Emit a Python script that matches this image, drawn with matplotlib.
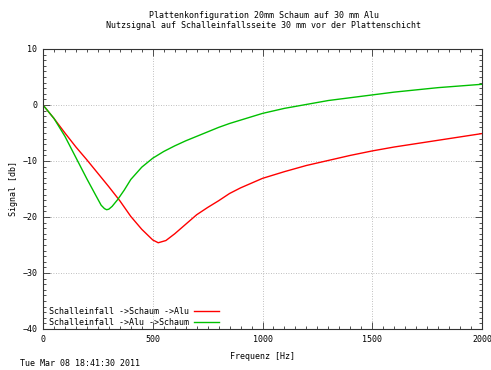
import matplotlib
matplotlib.use("Agg")
import matplotlib.pyplot as plt
from matplotlib.ticker import MultipleLocator

# Schalleinfall -> Schaum -> Alu (rot)
freq_red = [0, 50, 100, 150, 200, 250, 300, 350, 400, 450, 500, 525, 560, 600,
            650, 700, 750, 800, 850, 900, 1000, 1100, 1200, 1300, 1400, 1500,
            1600, 1700, 1800, 1900, 2000]
sig_red = [0, -2.4, -5.0, -7.5, -9.8, -12.2, -14.6, -17.1, -19.9, -22.2, -24.1,
           -24.6, -24.2, -23.0, -21.3, -19.6, -18.3, -17.1, -15.8, -14.8, -13.1,
           -11.9, -10.8, -9.9, -9.0, -8.2, -7.5, -6.9, -6.3, -5.7, -5.1]

# Schalleinfall -> Alu -> Schaum (gruen)
freq_green = [0, 50, 100, 150, 200, 240, 265, 280, 290, 300, 315, 340, 370, 400,
              450, 500, 550, 600, 650, 700, 750, 800, 850, 900, 1000, 1100, 1200,
              1300, 1400, 1500, 1600, 1700, 1800, 1900, 2000]
sig_green = [0, -2.4, -5.6, -9.4, -13.2, -16.1, -17.9, -18.5, -18.7, -18.6, -18.1,
             -16.9, -15.2, -13.3, -11.1, -9.5, -8.3, -7.3, -6.4, -5.6, -4.8, -4.0,
             -3.3, -2.7, -1.5, -0.6, 0.1, 0.8, 1.3, 1.8, 2.3, 2.7, 3.1, 3.4, 3.7]

labels = ["Schalleinfall ->Schaum ->Alu", "Schalleinfall ->Alu ->Schaum"]

plt.rcParams["font.family"] = "DejaVu Sans Mono"
plt.rcParams["font.size"] = 6

fig = plt.figure(figsize=(4.91, 3.70), dpi=100)
ax = fig.add_axes([43 / 491, 1 - 329 / 370, 439 / 491, 280 / 370])

ax.plot(freq_red, sig_red, color="#ff0000", lw=1.0, label=labels[0])
ax.plot(freq_green, sig_green, color="#00c000", lw=1.0, label=labels[1])

ax.set_xlim(0, 2000)
ax.set_ylim(-40, 10)
ax.xaxis.set_major_locator(MultipleLocator(500))
ax.xaxis.set_minor_locator(MultipleLocator(50))
ax.yaxis.set_major_locator(MultipleLocator(10))
ax.yaxis.set_minor_locator(MultipleLocator(1))
ax.tick_params(which="both", direction="in", top=True, right=True, width=0.6,
               color="#333333", labelsize=6, pad=4)
ax.tick_params(which="major", length=5)
ax.tick_params(which="minor", length=2.5)
ax.grid(True, which="major", linestyle=(0, (1, 2)), color="#aaaaaa", lw=0.6)
for s in ax.spines.values():
    s.set_linewidth(0.8)
    s.set_color("#333333")

ax.set_xlabel("Frequenz [Hz]", labelpad=6)
ax.set_ylabel("Signal [db]", labelpad=3)

fig.text(264 / 491, 1 - 15 / 370, "Plattenkonfiguration 20mm Schaum auf 30 mm Alu",
         ha="center", va="center")
fig.text(264 / 491, 1 - 26 / 370,
         "Nutzsignal auf Schalleinfallsseite 30 mm vor der Plattenschicht",
         ha="center", va="center")
fig.text(20 / 491, 1 - 363 / 370, "Tue Mar 08 18:41:30 2011", ha="left", va="center")

ax.legend(loc="lower left", bbox_to_anchor=(0.004, -0.006), frameon=False,
          markerfirst=False, handlelength=3.0, handletextpad=0.6,
          labelspacing=0.15, borderaxespad=0.1, fontsize=6)

fig.savefig("out.png", dpi=100)
